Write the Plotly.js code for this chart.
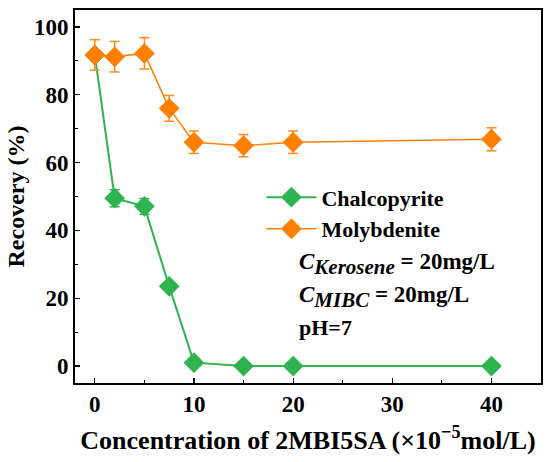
<!DOCTYPE html>
<html><head><meta charset="utf-8">
<script src="https://cdn.plot.ly/plotly-3.0.1.min.js"></script>
<style>html,body{margin:0;padding:0;background:#fff}</style>
</head><body>
<div id="chart" style="width:550px;height:462px"></div>
<script>
const concentration = [0, 2, 5, 7.5, 10, 15, 20, 40];
const chalcopyrite = [91.7, 49.5, 47.1, 23.5, 1.0, 0, 0, 0];
const chalcopyriteErr = [0, 2.5, 2.3, 0.8, 0.5, 0, 0, 0];
const molybdenite = [91.7, 91.2, 92.2, 76.0, 66.0, 65.0, 66.0, 66.9];
const molybdeniteErr = [4.5, 4.5, 4.6, 3.8, 3.3, 3.3, 3.3, 3.4];
const xTicks = [0, 10, 20, 30, 40];
const yTicks = [0, 20, 40, 60, 80, 100];

const green = '#2EB34F';
const orange = '#FF8000';
const fontFam = 'serif';
const b = s => '<b>' + s + '</b>';
const bigSub = s => '<sub><span style="font-size:21px">' + s + '</span></sub>';

const traces = [
  {
    x: concentration, y: chalcopyrite, name: b('Chalcopyrite'), type: 'scatter', mode: 'lines+markers',
    line: {color: green, width: 2},
    marker: {symbol: 'diamond', size: 16, color: green},
    error_y: {type: 'data', array: chalcopyriteErr, visible: true, color: green, thickness: 1.5, width: 5}
  },
  {
    x: concentration, y: molybdenite, name: b('Molybdenite'), type: 'scatter', mode: 'lines+markers',
    line: {color: orange, width: 1.5},
    marker: {symbol: 'diamond', size: 16, color: orange},
    error_y: {type: 'data', array: molybdeniteErr, visible: true, color: '#FF8C1A', thickness: 1.5, width: 5}
  }
];

const axisCommon = {
  showgrid: false, zeroline: false, showline: true, mirror: true,
  linecolor: '#000', linewidth: 1.8,
  ticks: 'inside', ticklen: 5, tickwidth: 1.2, tickcolor: '#000',
  tickfont: {family: fontFam, size: 23, color: '#000'}
};

const layout = {
  width: 550, height: 462,
  margin: {l: 75, r: 9, t: 10, b: 79},
  paper_bgcolor: '#fff', plot_bgcolor: '#fff',
  showlegend: true,
  font: {family: fontFam, color: '#000'},
  xaxis: Object.assign({}, axisCommon, {
    range: [-2, 45], tickvals: xTicks, ticktext: xTicks.map(v => b(v)),
    minor: {ticks: 'inside', ticklen: 3, tickwidth: 1, tickcolor: '#000', dtick: 5, tick0: 0},
    title: {text: b('Concentration of 2MBI5SA (×10<sup>−5</sup>mol/L)'), font: {family: fontFam, size: 26, color: '#000'}, standoff: 14}
  }),
  yaxis: Object.assign({}, axisCommon, {
    range: [-5, 105], tickvals: yTicks, ticktext: yTicks.map(v => b(v)),
    minor: {ticks: 'inside', ticklen: 3, tickwidth: 1, tickcolor: '#000', dtick: 10, tick0: 0},
    title: {text: b('Recovery (%)'), font: {family: fontFam, size: 24, color: '#000'}, standoff: 3}
  }),
  legend: {
    x: 0.40, y: 0.554, xanchor: 'left', yanchor: 'top',
    bgcolor: 'rgba(0,0,0,0)', borderwidth: 0,
    font: {family: fontFam, size: 22, color: '#000'},
    itemwidth: 50, tracegroupgap: 0
  },
  annotations: [
    {xref: 'paper', yref: 'paper', x: (297-75)/466, y: (383-264)/373, xanchor: 'left', yanchor: 'middle', showarrow: false,
     text: b('<i>C' + bigSub('Kerosene') + '</i> = 20mg/L'), font: {family: fontFam, size: 23, color: '#000'}},
    {xref: 'paper', yref: 'paper', x: (297-75)/466, y: (383-297)/373, xanchor: 'left', yanchor: 'middle', showarrow: false,
     text: b('<i>C' + bigSub('MIBC') + '</i> = 20mg/L'), font: {family: fontFam, size: 23, color: '#000'}},
    {xref: 'paper', yref: 'paper', x: (297-75)/466, y: (383-327)/373, xanchor: 'left', yanchor: 'middle', showarrow: false,
     text: b('pH=7'), font: {family: fontFam, size: 22, color: '#000'}}
  ]
};

Plotly.newPlot('chart', traces, layout, {displayModeBar: false, staticPlot: true});
</script>
</body></html>
